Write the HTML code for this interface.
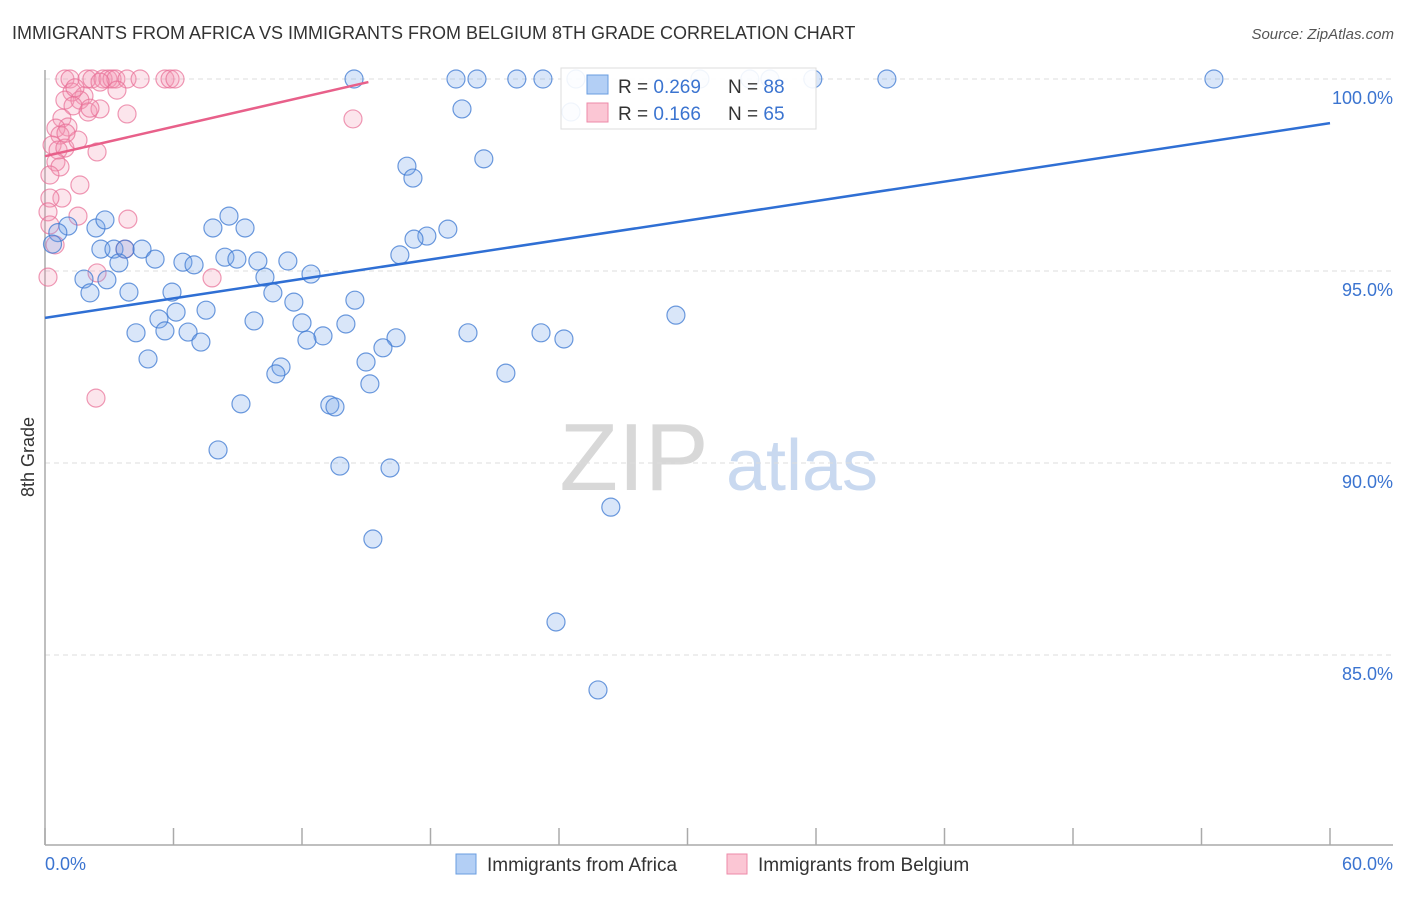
<!DOCTYPE html>
<html><head><meta charset="utf-8"><style>
body{margin:0;background:#fff;font-family:"Liberation Sans",sans-serif;}
svg text{font-family:"Liberation Sans",sans-serif;}
</style></head><body>
<svg id="chart" width="1406" height="892" xmlns="http://www.w3.org/2000/svg">
<text x="12" y="39" font-size="18" fill="#333">IMMIGRANTS FROM AFRICA VS IMMIGRANTS FROM BELGIUM 8TH GRADE CORRELATION CHART</text>
<text x="1394" y="39" font-size="15" fill="#555" font-style="italic" text-anchor="end">Source: ZipAtlas.com</text>
<g>
<text x="634" y="490" font-size="96" fill="#d8d8d8" font-family="Liberation Serif,serif" text-anchor="middle">ZIP</text>
<text x="802" y="490" font-size="72" fill="#c9d9f0" text-anchor="middle">atlas</text>
</g>
<g id="grid"></g>
<g id="axes"></g>
<g id="pink"></g>
<g id="blue"></g>
<g id="trends"></g>
<g>
<rect x="561" y="68" width="255" height="61" fill="#fff" fill-opacity="0.9" stroke="#ddd"/>
<rect x="587" y="75" width="21" height="19" fill="#b3cff5" stroke="#6a9de0"/>
<rect x="587" y="103" width="21" height="19" fill="#fbc6d4" stroke="#ee8aa8"/>
<text x="618" y="93" font-size="19" fill="#333">R = <tspan fill="#3b74d0">0.269</tspan></text>
<text x="728" y="93" font-size="19" fill="#333">N = <tspan fill="#3b74d0">88</tspan></text>
<text x="618" y="120" font-size="19" fill="#333">R =  <tspan fill="#3b74d0">0.166</tspan></text>
<text x="728" y="120" font-size="19" fill="#333">N = <tspan fill="#3b74d0">65</tspan></text>
</g>
<text x="34" y="457" font-size="18" fill="#333" transform="rotate(-90 34 457)" text-anchor="middle">8th Grade</text>
<g>
<rect x="456" y="854" width="20" height="20" fill="#b3cff5" stroke="#6a9de0"/>
<text x="487" y="871" font-size="19" fill="#333">Immigrants from Africa</text>
<rect x="727" y="854" width="20" height="20" fill="#fbc6d4" stroke="#ee8aa8"/>
<text x="758" y="871" font-size="19" fill="#333">Immigrants from Belgium</text>
</g>
</svg>
<script>
const yTicks=[100,95,90,85];
const yTickLabels=["100.0%","95.0%","90.0%","85.0%"];
const xTicks=[0,6,12,18,24,30,36,42,48,54,60];
const xEndLabels=["0.0%","60.0%"];
const blueX=[14.43,19.19,20.17,22.03,23.25,24.79,30.58,32.91,33.85,35.85,39.31,54.58,19.47,24.56,20.49,16.9,17.18,8.59,7.84,9.34,2.38,2.8,1.07,0.6,0.35,18.81,17.83,17.23,2.61,3.22,3.74,4.53,16.57,5.14,3.45,6.44,6.96,8.4,8.96,9.94,11.34,10.27,12.42,1.82,2.89,2.1,3.92,5.93,10.64,11.62,14.47,7.52,6.12,5.32,9.76,12.0,14.05,29.46,4.25,5.6,6.68,12.98,12.23,7.28,16.39,15.78,19.75,23.16,24.23,4.81,14.99,11.02,10.78,21.52,15.17,9.15,13.3,13.54,8.08,13.77,16.11,26.42,15.31,23.86,25.82];
const blueY=[100,100,100,100,100,100,100,100,100,100,100,100,99.22,99.14,97.92,97.73,97.42,96.43,96.12,96.12,96.12,96.33,96.17,96.0,95.7,96.09,95.91,95.83,95.57,95.57,95.57,95.57,95.42,95.31,95.21,95.23,95.16,95.36,95.31,95.26,95.26,94.84,94.92,94.79,94.77,94.43,94.45,94.45,94.43,94.19,94.24,93.98,93.93,93.75,93.7,93.65,93.62,93.85,93.39,93.44,93.41,93.31,93.2,93.15,93.26,93.0,93.39,93.39,93.23,92.71,92.63,92.5,92.32,92.34,92.06,91.54,91.51,91.46,90.34,89.92,89.87,88.85,88.02,85.86,84.09];
const pinkX=[0.93,1.17,1.96,2.19,2.71,2.94,3.13,3.31,3.83,4.44,5.6,5.84,6.07,1.26,1.82,3.36,0.93,1.63,1.31,2.01,2.57,3.83,0.79,1.07,0.51,0.7,0.33,0.61,0.93,2.43,0.51,0.7,0.23,1.63,0.79,0.23,0.14,1.54,3.87,0.23,0.47,2.43,7.8,0.14,2.38,14.38,2.1,1.4,2.57,1.54,0.98,3.73];
const pinkY=[100,100,100,100,100,100,100,100,100,100,100,100,100,99.66,99.56,99.71,99.45,99.45,99.3,99.14,99.22,99.09,98.98,98.75,98.72,98.54,98.28,98.15,98.2,98.1,97.84,97.71,97.5,97.24,96.9,96.9,96.54,96.43,96.35,96.2,95.68,94.95,94.82,94.84,91.69,98.96,99.24,99.77,99.92,98.41,98.59,95.57];
const blueTrendX=[0,60], blueTrendY=[93.78,98.85];
const pinkTrendX=[0,15.1], pinkTrendY=[97.99,99.92];
const NS="http://www.w3.org/2000/svg";
const X0=45,X1=1330,Y100=79,PXPCT=38.4;
function sx(v){return X0+(v/60)*(X1-X0);}
function sy(v){return Y100+(100-v)*PXPCT;}
function mk(tag,attrs,parent){const e=document.createElementNS(NS,tag);for(const k in attrs)e.setAttribute(k,attrs[k]);parent.appendChild(e);return e;}
const grid=document.getElementById('grid'),axes=document.getElementById('axes');
yTicks.forEach((t,i)=>{
 const l=mk('line',{x1:X0,x2:1393,y1:sy(t),y2:sy(t),stroke:'#ddd','stroke-dasharray':'5,4'},grid);
 
 
 const tx=mk('text',{x:1393,y:sy(t)+25,'font-size':18,fill:'#3b74d0','text-anchor':'end'},axes);
 tx.textContent=yTickLabels[i];
 
 
});
const ax=mk('line',{x1:X0,x2:X0,y1:70,y2:845,stroke:'#aaa','stroke-width':1.5},axes);


const bx=mk('line',{x1:X0,x2:1393,y1:845,y2:845,stroke:'#aaa','stroke-width':1.5},axes);


xTicks.forEach(t=>{
 const l=mk('line',{x1:sx(t),x2:sx(t),y1:828,y2:845,stroke:'#aaa','stroke-width':1.5},axes);
 
 
});
[[0,'start',45],[60,'end',1393]].forEach((d,i)=>{
 const tx=mk('text',{x:d[2],y:870,'font-size':18,fill:'#3b74d0','text-anchor':d[1]},axes);
 tx.textContent=xEndLabels[i];
 
 
});
function pts(xs,ys,g,fill,stroke,name){
 xs.forEach((x,i)=>{
  const c=mk('circle',{cx:sx(x),cy:sy(ys[i]),r:9,fill:fill,stroke:stroke,'stroke-width':1.2},g);
  
  
 });
}
pts(pinkX,pinkY,document.getElementById('pink'),'rgba(244,150,180,0.25)','rgba(232,110,150,0.7)','belgium-point');
pts(blueX,blueY,document.getElementById('blue'),'rgba(120,165,235,0.28)','rgba(60,120,210,0.75)','africa-point');
const tg=document.getElementById('trends');
const bt=mk('line',{x1:sx(blueTrendX[0]),y1:sy(blueTrendY[0]),x2:sx(blueTrendX[1]),y2:sy(blueTrendY[1]),stroke:'#2f6fd4','stroke-width':2.5},tg);


const pt=mk('line',{x1:sx(pinkTrendX[0]),y1:sy(pinkTrendY[0]),x2:sx(pinkTrendX[1]),y2:sy(pinkTrendY[1]),stroke:'#e8608a','stroke-width':2.5},tg);


</script>
</body></html>
